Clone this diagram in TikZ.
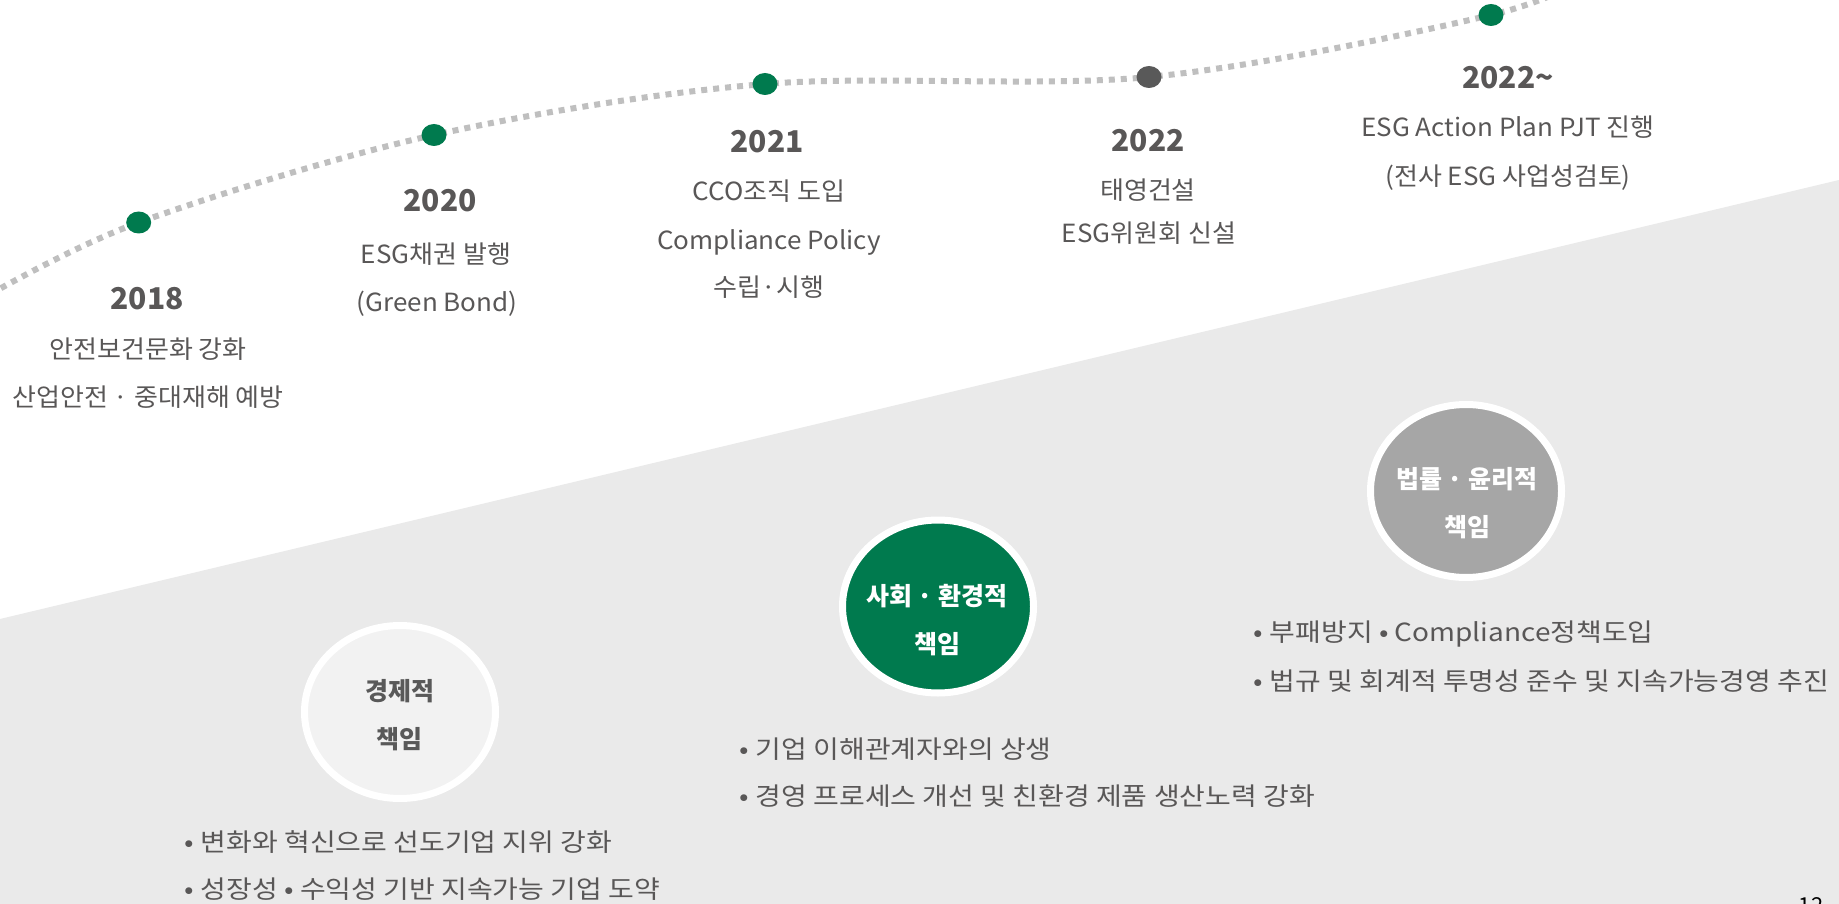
\documentclass[tikz,border=0pt]{standalone}
\usepackage{fontspec}
\setmainfont{Noto Sans CJK KR}
\newfontfamily\descfont[FakeStretch=1.04]{Noto Sans CJK KR}
\newfontfamily\itemfont[FakeStretch=1.12]{Noto Sans CJK KR}
\usetikzlibrary{shapes.geometric}
\definecolor{esggreen}{HTML}{007A4E}
\definecolor{txtgray}{HTML}{595757}
\definecolor{dashgray}{HTML}{BFBFBF}
\definecolor{bggray}{HTML}{EAEAEA}
\definecolor{lightfill}{HTML}{F2F2F2}
\definecolor{midfill}{HTML}{A6A6A6}
\definecolor{darkdot}{HTML}{595959}
\newcommand{\itembullet}{•\hspace{7pt}}
\tikzset{
  year/.style={
    font=\fontsize{30}{30}\selectfont\bfseries,
    text=txtgray,
    inner sep=0pt,
    text height=22pt,
    text depth=1.5pt
  },
  desc/.style={
    font=\descfont\fontsize{25}{25}\selectfont,
    text=txtgray,
    inner sep=0pt,
    text height=19pt,
    text depth=1.25pt
  },
  item/.style={
    font=\itemfont\fontsize{25}{25}\selectfont,
    text=txtgray,
    inner sep=0pt,
    text height=19pt,
    text depth=1.25pt,
    anchor=west
  },
  milestone/.style={
    shape=ellipse,
    fill=esggreen,
    minimum width=25pt,
    minimum height=22pt,
    inner sep=0pt
  },
  timeline/.style={
    draw=dashgray,
    line width=6pt,
    dash pattern=on 6pt off 6pt
  },
  duty/.style={
    shape=ellipse,
    draw=white,
    line width=7pt,
    minimum width=191pt,
    minimum height=173pt,
    inner sep=0pt
  },
  dutytext/.style={
    font=\fontsize{25}{25}\selectfont\bfseries,
    inner sep=0pt,
    text height=19pt,
    text depth=1.25pt
  }
}
\begin{document}
\begin{tikzpicture}[x=1pt,y=-1pt]
  \useasboundingbox (0,0) rectangle (1839,904);
  \clip (0,0) rectangle (1839,904);
  \fill[white] (0,0) rectangle (1839,904);
  % grey lower field
  \fill[bggray] (0,619) -- (1839,180) -- (1839,904) -- (0,904) -- cycle;

  % timeline
  \coordinate (c0) at (-20,300);
  \coordinate (c1) at (138.7,222.5);
  \coordinate (c2) at (434,135);
  \coordinate (c3) at (765,84);
  \coordinate (c4) at (1149,77);
  \coordinate (c5) at (1491,15);
  \coordinate (c6) at (1600,-30);
  \draw[timeline] plot[smooth, tension=0.55] coordinates {(c0) (c1) (c2) (c3) (c4) (c5) (c6)};
  \node[milestone] (m2018) at (c1) {};
  \node[milestone] (m2020) at (c2) {};
  \node[milestone] (m2021) at (c3) {};
  \node[milestone, fill=darkdot] (m2022) at (c4) {};
  \node[milestone] (m2022on) at (c5) {};

  \node[year] (y2018) at (147,299) {2018};
  \node[desc] (t2018a) at (148,350) {안전보건문화 강화};
  \node[desc] (t2018b) at (148,398) {산업안전 · 중대재해 예방};

  \node[year] (y2020) at (440,201) {2020};
  \node[desc] (t2020a) at (436,255) {ESG채권 발행};
  \node[desc] (t2020b) at (437,303) {(Green Bond)};

  \node[year] (y2021) at (767,142) {2021};
  \node[desc] (t2021a) at (769,192) {CCO조직 도입};
  \node[desc] (t2021b) at (769,241) {Compliance Policy};
  \node[desc] (t2021c) at (769,288) {수립·시행};

  \node[year] (y2022) at (1148,141) {2022};
  \node[desc] (t2022a) at (1148,191) {태영건설};
  \node[desc] (t2022b) at (1149,234) {ESG위원회 신설};

  \node[year] (y2022on) at (1508,78) {2022\textasciitilde};
  \node[desc] (t2022ona) at (1508,128) {ESG Action Plan PJT 진행};
  \node[desc] (t2022onb) at (1508,177) {(전사 ESG 사업성검토)};

  % three responsibilities
  \node[duty, fill=lightfill] (econ) at (400,712) {};
  \node[dutytext, text=darkdot] (econa) at (400,692) {경제적};
  \node[dutytext, text=darkdot] (econb) at (399,740) {책임};

  \node[duty, fill=esggreen] (social) at (938,606.5) {};
  \node[dutytext, text=white] (sociala) at (937,597) {사회 · 환경적};
  \node[dutytext, text=white] (socialb) at (937,645) {책임};

  \node[duty, fill=midfill] (legal) at (1466,491) {};
  \node[dutytext, text=white] (legala) at (1467,480) {법률 · 윤리적};
  \node[dutytext, text=white] (legalb) at (1467,528) {책임};

  \node[item] (econ1) at (184,843) {\itembullet 변화와 혁신으로 선도기업 지위 강화};
  \node[item] (econ2) at (184,890) {\itembullet 성장성 • 수익성 기반 지속가능 기업 도약};
  \node[item] (social1) at (739,750) {\itembullet 기업 이해관계자와의 상생};
  \node[item] (social2) at (739,797) {\itembullet 경영 프로세스 개선 및 친환경 제품 생산노력 강화};
  \node[item] (legal1) at (1253,633) {\itembullet 부패방지 • Compliance정책도입};
  \node[item] (legal2) at (1253,682) {\itembullet 법규 및 회계적 투명성 준수 및 지속가능경영 추진};

  \node[anchor=north, inner sep=0pt, font=\fontsize{22}{22}\selectfont] (page) at (1811,897) {12};
\end{tikzpicture}
\end{document}
